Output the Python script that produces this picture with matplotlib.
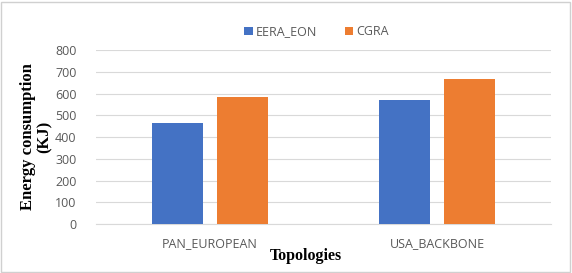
import numpy as np
import matplotlib.pyplot as plt
from matplotlib.patches import Rectangle

# Data
topologies = ["PAN_EUROPEAN", "USA_BACKBONE"]
eera_eon = [463, 570]
cgra = [582, 667]
series_names = ["EERA_EON", "CGRA"]

fig = plt.figure(figsize=(5.72, 2.73), dpi=100)
ax = fig.add_axes([0.168, 0.179, 0.795, 0.638])

x = np.arange(len(topologies))
w = 0.224
off = 0.143
ax.bar(x - off, eera_eon, w, color="#4472C4", label=series_names[0], zorder=3)
ax.bar(x + off, cgra, w, color="#ED7D31", label=series_names[1], zorder=3)

ax.set_xlim(-0.5, 1.5)
ax.set_ylim(0, 800)
ax.set_yticks(np.arange(0, 801, 100))
ax.set_xticks(x)
ax.set_xticklabels(topologies)
ax.grid(axis="y", color="#d9d9d9", linewidth=0.8, zorder=0)
for s in ax.spines.values():
    s.set_visible(False)
ax.spines["bottom"].set_visible(True)
ax.spines["bottom"].set_color("#d9d9d9")
ax.tick_params(length=0, labelsize=9, labelcolor="#595959")
ax.tick_params(axis="y", pad=14)
ax.tick_params(axis="x", pad=9)
for lbl in ax.get_xticklabels() + ax.get_yticklabels():
    lbl.set_family("Open Sans")

ax.set_ylabel("Energy consumption\n(KJ)", family="Liberation Serif",
              fontweight="bold", fontsize=12, linespacing=1.0, labelpad=2)
fig.text(0.535, 0.062, "Topologies", family="Liberation Serif",
         fontweight="bold", fontsize=11.5, ha="center", va="center")

fig.legend(loc="center", bbox_to_anchor=(0.553, 0.883), ncol=2, frameon=False,
           prop={"family": "Open Sans", "size": 9}, handlelength=0.7,
           handleheight=0.7, handletextpad=0.2, columnspacing=2.2,
           labelcolor="#595959")

fig.add_artist(Rectangle((0.002, 0.004), 0.994, 0.99, transform=fig.transFigure,
                         fill=False, edgecolor="#d0d0d0", linewidth=1))

plt.savefig("out.png", dpi=100)
